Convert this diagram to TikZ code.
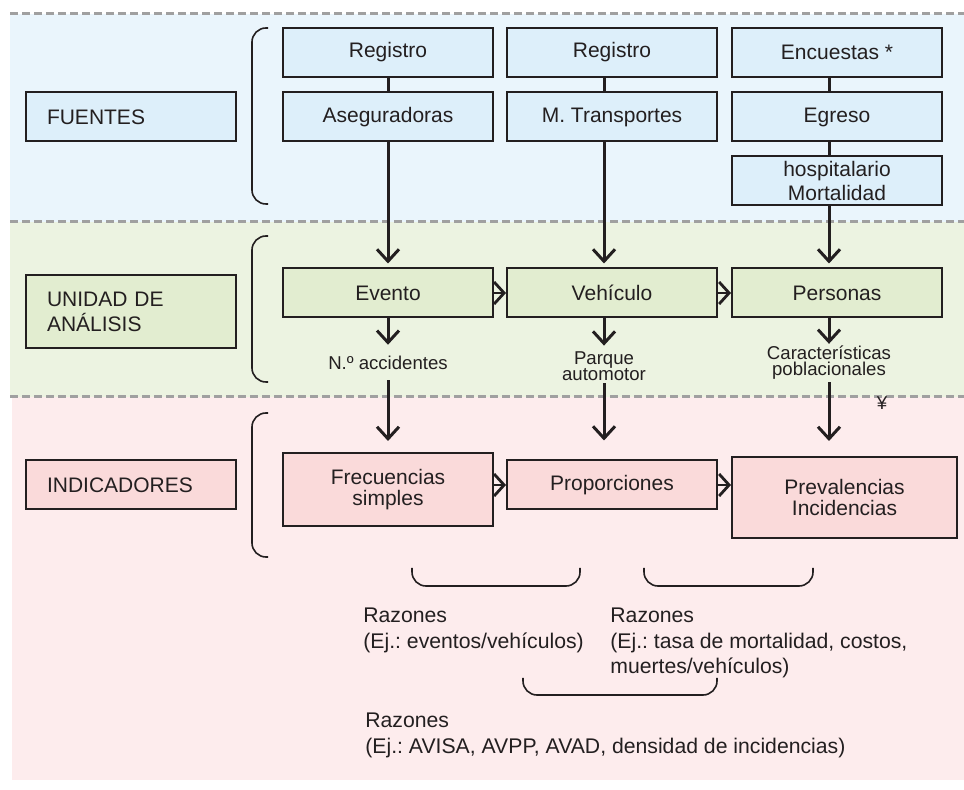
\documentclass[tikz,border=0pt]{standalone}
\usepackage{fontspec}
\setmainfont{Liberation Sans}
\usetikzlibrary{arrows.meta}
\definecolor{ink}{RGB}{35,31,32}
\definecolor{bandblue}{RGB}{234,245,252}
\definecolor{boxblue}{RGB}{221,239,250}
\definecolor{bandgreen}{RGB}{236,243,225}
\definecolor{boxgreen}{RGB}{226,237,208}
\definecolor{bandpink}{RGB}{253,236,237}
\definecolor{boxpink}{RGB}{250,218,218}
\definecolor{sepgray}{RGB}{160,160,160}
\frenchspacing
\begin{document}
\begin{tikzpicture}
[
    x=0.5pt, y=-0.5pt,
    every node/.style={text=ink, font=\fontsize{10.5}{10.5}\selectfont},
    box/.style={draw=ink, line width=1pt, minimum width=105pt, minimum height=24.5pt, inner sep=0pt, align=center},
    tag/.style={box, align=left, text width=84pt, inner xsep=10.5pt, font=\fontsize{10.5}{12.5}\selectfont},
    small/.style={inner sep=0pt, align=center, font=\fontsize{9.3}{8}\selectfont},
    note/.style={inner sep=0pt, anchor=north west, align=left, font=\fontsize{10.6}{12.6}\selectfont},
    link/.style={draw=ink, line width=1.5pt},
    arr/.style={link, -{Straight Barb[length=6pt,width=11pt,line width=1.5pt]}},
    dbl/.style={draw=ink, line width=1.2pt, -{Straight Barb[length=5pt,width=11pt,line width=1.4pt]}},
    brk/.style={draw=ink, line width=0.8pt, rounded corners=7pt},
    sep/.style={draw=sepgray, line width=1.5pt, dash pattern=on 4pt off 2pt},
]
\useasboundingbox (0,0) rectangle (964,790);
% bands
\fill[bandblue] (10,14) rectangle (964,222);
\fill[bandgreen] (10,222) rectangle (964,397);
\fill[bandpink] (12,397) rectangle (964,780);
\draw[sep] (10,14) -- (964,14);
\draw[sep] (10,222) -- (964,222);
\draw[sep] (10,397) -- (964,397);

% left tags
\node[tag, fill=boxblue] (fuentes) at (131,117) {FUENTES};
\node[tag, fill=boxgreen, minimum height=36.5pt] (unidad) at (131,311.5) {UNIDAD DE\\ANÁLISIS};
\node[tag, fill=boxpink] (indic) at (131,485) {INDICADORES};

% brackets
\draw[brk] (268,28) -- (252,28) -- (252,204) -- (268,204);
\draw[brk] (268,236) -- (252,236) -- (252,382) -- (268,382);
\draw[brk] (268,413) -- (252,413) -- (252,557) -- (268,557);

% fuentes
\node[box, fill=boxblue] (reg1) at (388,52.5) {Registro};
\node[box, fill=boxblue] (aseg) at (388,117) {Aseguradoras};
\node[box, fill=boxblue] (reg2) at (612,52.5) {Registro};
\node[box, fill=boxblue] (mtra) at (612,117) {M. Transportes};
\node[box, fill=boxblue] (encu) at (837,52.5) {Encuestas *};
\node[box, fill=boxblue] (egre) at (837,117) {Egreso};
\node[box, fill=boxblue, font=\fontsize{10.5}{12}\selectfont] (mort) at (837,181) {hospitalario\\Mortalidad};

% unidad de analisis
\node[box, fill=boxgreen] (evento) at (388,293) {Evento};
\node[box, fill=boxgreen] (vehic) at (612,293) {Vehículo};
\node[box, fill=boxgreen] (perso) at (837,293) {Personas};
\node[small] (nacc) at (388,363) {N.º accidentes};
\node[small] (parque) at (604,366.5) {Parque\\automotor};
\node[small] (caract) at (829,363) {Características\\poblacionales};
\node[small] (yen) at (882,403) {¥};

% indicadores
\node[box, fill=boxpink, minimum height=36.5pt] (frec) at (388,489.5) {Frecuencias\\simples};
\node[box, fill=boxpink] (prop) at (612,485) {Proporciones};
\node[box, fill=boxpink, minimum width=112.5pt, minimum height=40.5pt] (prev) at (844.5,497.5) {Prevalencias\\Incidencias};

% connectors
\draw[link] (reg1) -- (aseg);
\draw[arr, shorten >=2pt] (aseg) -- (evento);
\draw[link] ([xshift=-4pt]reg2.south) -- ([xshift=-4pt]mtra.north);
\draw[arr, shorten >=2pt] ([xshift=-4pt]mtra.south) -- ([xshift=-4pt]vehic.north);
\draw[link] ([xshift=-4pt]encu.south) -- ([xshift=-4pt]egre.north);
\draw[link] ([xshift=-4pt]egre.south) -- ([xshift=-4pt]mort.north);
\draw[arr, shorten >=2pt] ([xshift=-4pt]mort.south) -- ([xshift=-4pt]perso.north);

\draw[arr, shorten >=5.5pt] (evento) -- (nacc);
\draw[arr, shorten >=3pt] (parque |- vehic.south) -- (parque);
\draw[arr, shorten >=1pt] (caract |- perso.south) -- (caract);
\draw[arr, shorten <=5pt, shorten >=5.5pt] (nacc) -- (frec);
\draw[arr, shorten <=1pt, shorten >=9.5pt] (parque) -- (parque |- prop.north);
\draw[arr, shorten <=1pt, shorten >=7.5pt] (caract) -- (caract |- prev.north);

\draw[dbl] (evento) -- (vehic);
\draw[dbl] (vehic) -- (perso);
\draw[dbl] (frec.east |- prop) -- (prop);
\draw[dbl] (prop) -- (prop -| prev.west);

% razones
\draw[brk] (412,568) -- (412,586) -- (580,586) -- (580,568);
\draw[brk] (644,568) -- (644,586) -- (813,586) -- (813,568);
\draw[brk] (523,678) -- (523,695) -- (717,695) -- (717,678);
\node[note] (raz1) at (363,608) {Razones\\(Ej.: eventos/vehículos)};
\node[note] (raz2) at (610,608) {Razones\\(Ej.: tasa de mortalidad, costos,\\muertes/vehículos)};
\node[note] (raz3) at (365,713) {Razones\\(Ej.: AVISA, AVPP, AVAD, densidad de incidencias)};
\end{tikzpicture}
\end{document}
